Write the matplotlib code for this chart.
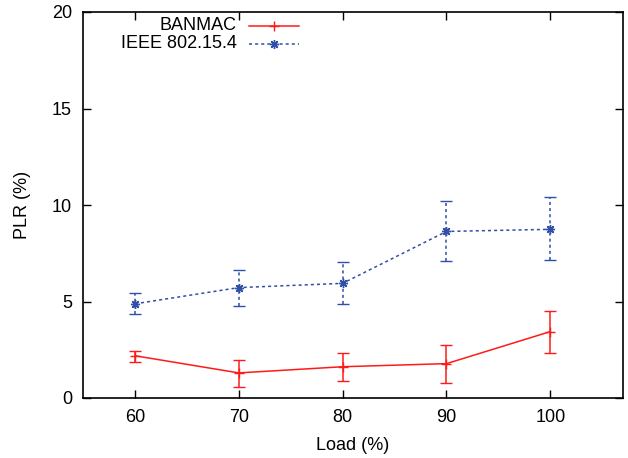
import numpy as np
import matplotlib.pyplot as plt
from matplotlib.lines import Line2D

plt.rcParams['font.family'] = ['Liberation Sans', 'DejaVu Sans']

load = [60, 70, 80, 90, 100]

banmac = [2.19, 1.30, 1.62, 1.78, 3.44]
banmac_lo = [1.87, 0.59, 0.86, 0.80, 2.33]
banmac_hi = [2.45, 1.97, 2.35, 2.75, 4.52]

ieee = [4.88, 5.72, 5.94, 8.63, 8.74]
ieee_lo = [4.35, 4.77, 4.85, 7.11, 7.13]
ieee_hi = [5.42, 6.61, 7.06, 10.19, 10.40]

red = '#ff1a1a'
blue = '#2f4fa8'

fig = plt.figure(figsize=(6.28, 4.58), dpi=100)
ax = fig.add_axes([83 / 628, 60 / 458, 540 / 628, 386 / 458])

b = np.array(banmac)
ax.errorbar(load, banmac, yerr=[b - np.array(banmac_lo), np.array(banmac_hi) - b],
            color=red, lw=1.1, marker='+', ms=6.5, mew=1.0, capsize=4, elinewidth=1.1,
            capthick=1.1)

i = np.array(ieee)
e2 = ax.errorbar(load, ieee, yerr=[i - np.array(ieee_lo), np.array(ieee_hi) - i],
                 color=blue, lw=1.1, ls=(0, (2, 2)), marker=(8, 2, 0), ms=6.5, mew=1.0,
                 capsize=4, elinewidth=1.1, capthick=1.1)
for bar in e2[2]:
    bar.set_linestyle((0, (2, 2)))

ax.set_xlim(55, 107)
ax.set_ylim(0, 20)
ax.set_xticks(load)
ax.set_yticks([0, 5, 10, 15, 20])
ax.tick_params(direction='in', length=6, width=1, top=True, right=True,
               labelsize=13, pad=8, colors='black')
for s in ax.spines.values():
    s.set_linewidth(1.2)
ax.set_xlabel('Load (%)', fontsize=13, labelpad=8)
ax.set_ylabel('PLR (%)', fontsize=13, labelpad=15)

# legend, gnuplot style (text right-aligned, sample on the right)
ax.text(0.285, 0.965, 'BANMAC', transform=ax.transAxes, ha='right', va='center', fontsize=13)
ax.text(0.285, 0.918, 'IEEE 802.15.4', transform=ax.transAxes, ha='right', va='center', fontsize=13)
ax.add_line(Line2D([0.308, 0.40], [0.965, 0.965], transform=ax.transAxes, color=red, lw=1.1))
ax.add_line(Line2D([0.354], [0.965], transform=ax.transAxes, color=red, marker='+', ms=6.5, mew=1.0))
ax.add_line(Line2D([0.308, 0.40], [0.918, 0.918], transform=ax.transAxes, color=blue, lw=1.1,
                   ls=(0, (2, 2))))
ax.add_line(Line2D([0.354], [0.918], transform=ax.transAxes, color=blue, marker=(8, 2, 0),
                   ms=6.5, mew=1.0))

fig.savefig('out.png', dpi=100)
